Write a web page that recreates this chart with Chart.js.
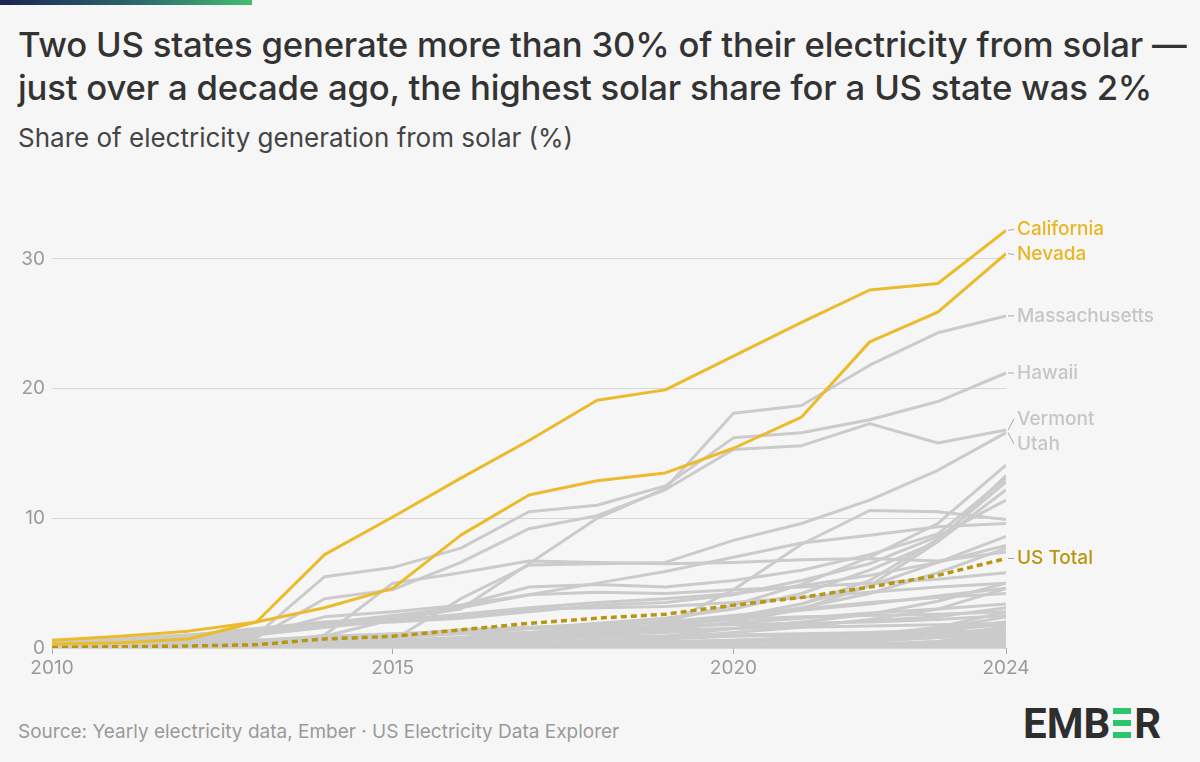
<!DOCTYPE html>
<html>
<head>
<meta charset="utf-8">
<script src="https://cdn.jsdelivr.net/npm/chart.js@4.4.1/dist/chart.umd.min.js"></script>
<style>
  body { margin:0; background:#f6f6f6; width:1200px; height:762px; overflow:hidden; position:relative; font-family:Inter, "Noto Sans", sans-serif; }
  .topbar { position:absolute; left:0; top:0; width:252px; height:5px; background:linear-gradient(90deg,#1b2354,#2c6a6c 55%,#43bf6b); }
  h1 { position:absolute; left:18px; top:23px; margin:0; font-size:34.7px; line-height:43px; font-weight:500; color:#333; letter-spacing:-0.2px; white-space:nowrap; }
  .sub { position:absolute; left:18px; top:122px; font-size:26px; color:#444; }
  .src { position:absolute; left:18px; top:720px; font-size:19px; color:#9a9a9a; }
  .logo { position:absolute; left:1023px; top:700px; font-family:Roboto, sans-serif; font-size:42px; font-weight:700; color:#2e2e2e; line-height:47px; }
  .logo .e { display:inline-block; width:18px; height:30px; margin:0 3px 0 3px; vertical-align:0px;
    background:linear-gradient(#2bc56e 0 6px, transparent 6px 12px, #2bc56e 12px 18px, transparent 18px 24px, #2bc56e 24px 30px); }
  #chart { position:absolute; left:0; top:0; }
</style>
</head>
<body>
<div class="topbar"></div>
<h1>Two US states generate more than 30% of their electricity from solar —<br>just over a decade ago, the highest solar share for a US state was 2%</h1>
<div class="sub">Share of electricity generation from solar (%)</div>
<div class="src">Source: Yearly electricity data, Ember · US Electricity Data Explorer</div>
<div class="logo">EMB<span class="e"></span>R</div>
<canvas id="chart" width="1200" height="762"></canvas>

<script>
// values, % share of generation
var years = [2010,2011,2012,2013,2014,2015,2016,2017,2018,2019,2020,2021,2022,2023,2024]
var xTicks = [2010,2015,2020,2024]
var yTicks = [0,10,20,30]

var california    = [0.6,0.9,1.3,2.0,7.2,10.1,13.1,16.0,19.1,19.9,22.5,25.1,27.6,28.1,32.2]
var nevada        = [0.3,0.4,0.7,2.0,3.1,4.6,8.7,11.8,12.9,13.5,15.4,17.8,23.6,25.9,30.4]
var massachusetts = [0.1,0.2,0.3,0.5,0.9,2.2,3.0,6.5,10.0,12.3,18.1,18.7,21.8,24.3,25.6]
var hawaii        = [0.1,0.2,0.5,1.0,5.5,6.2,7.7,10.5,11.0,12.5,16.2,16.6,17.6,19.0,21.2]
var vermont       = [0.0,0.1,0.3,0.8,3.8,4.5,6.6,9.2,10.2,12.2,15.3,15.6,17.3,15.8,16.8]
var utah          = [0,0,0,0,0.1,0.6,3.8,6.4,6.5,6.6,8.3,9.6,11.4,13.7,16.6]
var usTotal       = [0.05,0.1,0.15,0.25,0.7,0.9,1.4,1.9,2.3,2.6,3.3,3.9,4.7,5.6,6.9]

// all the other states, drawn grey without labels
var otherStates = [
  [0.3,0.5,0.8,1.2,1.9,2.5,3.1,4.1,5.0,5.9,7.0,8.1,8.7,9.35,9.6],
  [0,0,0.1,0.1,0.2,0.4,0.6,0.9,1.3,1.8,4.5,8.0,10.6,10.5,9.9],
  [0,0,0.1,0.2,1.0,5.0,5.8,6.7,6.6,6.5,6.6,6.8,6.9,6.7,7.4],
  [0,0,0.1,0.2,0.3,0.5,0.8,1.2,1.6,2.1,3.3,4.9,7.0,9.6,14.1],
  [0,0,0,0.1,0.2,0.3,0.5,0.7,1.0,1.4,2.0,3.0,4.8,8.2,13.3],
  [0.2,0.4,0.7,1.0,1.6,2.3,3.3,4.7,4.9,4.7,5.2,6.0,7.2,8.8,13.1],
  [0,0,0,0.1,0.2,0.3,0.5,0.8,1.2,1.6,2.3,3.4,5.2,8.4,12.8],
  [0.1,0.2,0.3,0.4,0.6,0.8,1.1,1.5,1.9,2.3,3.0,4.2,6.0,8.2,12.2],
  [0.4,0.7,1.0,1.3,1.8,2.0,2.3,2.8,3.3,3.5,4.1,5.2,6.5,8.6,11.4],
  [0.1,0.1,0.2,0.3,0.4,0.6,0.8,1.1,1.4,1.8,2.4,3.4,4.8,6.6,8.6],
  [0.3,0.5,0.8,1.1,1.6,2.1,2.6,3.1,3.5,3.8,4.2,4.8,5.6,6.6,7.9],
  [0,0,0.1,0.1,0.2,0.4,0.6,0.9,1.3,1.7,2.3,3.1,4.2,5.8,7.7],
  [0.2,0.4,0.7,1.0,2.4,2.8,3.3,4.1,4.3,4.2,4.5,4.7,5.0,5.3,5.8],
  [0.5,0.7,1.0,1.5,2.0,2.3,2.4,3.0,3.1,3.2,3.5,3.9,4.3,4.7,5.0],
  [0,0,0.1,0.1,0.2,0.3,0.5,0.9,1.3,1.7,2.3,2.9,3.4,4.0,4.6],
  [0.1,0.2,0.4,0.6,0.9,1.1,1.3,1.5,1.7,2.0,2.5,3.0,3.5,3.9,4.2],
  [0,0,0.1,0.2,0.3,0.4,0.6,0.9,1.2,1.5,1.9,2.3,2.7,3.0,3.4],
  [0,0.1,0.2,0.3,0.6,1.0,1.4,1.6,1.8,2.0,2.2,2.4,2.5,2.6,2.8],
  [0,0,0,0,0,0,0.1,0.1,0.2,0.3,0.5,0.7,1.0,1.6,2.8],
  [0,0,0,0,0,0.1,0.1,0.2,0.3,0.4,0.6,0.8,1.1,1.4,2.0],
  [0,0,0,0,0,0,0,0,0.1,0.1,0.2,0.3,0.5,0.8,1.3],
  [0,0,0,0,0,0,0,0,0,0,0.1,0.1,0.2,0.3,0.5],
  [0,0,0,0.1,0.1,0.2,0.3,0.4,0.6,0.7,0.9,1.0,1.1,1.2,1.4],
  [0.1,0.1,0.2,0.3,0.4,0.5,0.6,0.8,1.0,1.2,1.5,1.8,2.1,2.4,3.1],
  [0,0.1,0.1,0.2,0.3,0.4,0.5,0.6,0.8,0.9,1.0,1.1,1.2,1.4,1.8],
  [0,0,0,0,0,0,0,0.1,0.1,0.1,0.2,0.2,0.3,0.4,0.7],
  [0,0,0,0,0,0,0,0,0,0,0,0,0.1,0.1,0.2],
  [0,0,0,0,0,0,0,0,0,0,0,0,0,0,0.1],
  [0,0,0,0,0,0,0,0,0.1,0.2,0.4,0.6,0.9,1.5,2.4],
  [0,0,0,0,0.1,0.1,0.2,0.2,0.3,0.3,0.4,0.5,0.6,0.8,1.0],
  [0.1,0.2,0.3,0.4,0.5,0.6,0.7,0.8,0.9,0.9,1.0,1.0,1.1,1.1,1.2],
  [0,0,0,0,0,0,0.1,0.3,0.5,0.8,1.2,1.6,2.2,3.0,4.6],
  [0,0,0,0,0,0,0,0,0,0.1,0.1,0.3,0.6,1.2,2.0],
  [0,0,0,0,0,0,0,0,0,0,0,0.1,0.2,0.5,1.1],
  [0,0,0,0,0,0,0,0,0,0,0,0,0,0.1,0.3],
  [0.2,0.3,0.5,0.6,0.8,1.0,1.1,1.2,1.3,1.4,1.5,1.6,1.7,1.8,1.9],
  [0,0,0,0.1,0.3,0.8,1.2,1.5,1.6,1.7,1.8,1.9,2.0,2.2,2.5],
  [0,0,0,0,0,0,0,0.1,0.4,0.9,1.5,2.0,2.6,3.6,5.0],
  [0,0,0,0,0,0,0,0,0,0,0.1,0.2,0.3,0.4,0.6],
  [0,0,0,0,0.1,0.2,0.2,0.3,0.4,0.5,0.6,0.7,0.8,1.0,1.6],
  [0,0,0,0,0,0,0,0,0.1,0.1,0.1,0.2,0.3,0.5,0.9]
]

var GREY = '#cbcbcb'
var YELLOW = '#ebbb2b'
var DARKGOLD = '#b8960f'
var LABEL_GREY = '#c6c6c6'

function pts(vals){
  return vals.map(function(v,i){ return {x: years[i], y: v} })
}

// Chart.js paints the first dataset on top, so highlighted lines go first
var datasets = []
datasets.push({data: pts(california), borderColor: YELLOW, borderWidth: 3, endLabel: 'California', labelColor: '#e8b623'})
datasets.push({data: pts(nevada), borderColor: YELLOW, borderWidth: 3, endLabel: 'Nevada', labelColor: '#e8b623'})
datasets.push({data: pts(usTotal), borderColor: DARKGOLD, borderWidth: 3.5, borderDash: [6,4], borderCapStyle: 'butt', endLabel: 'US Total', labelColor: DARKGOLD})
datasets.push({data: pts(massachusetts), borderColor: GREY, borderWidth: 3, endLabel: 'Massachusetts', labelColor: LABEL_GREY})
datasets.push({data: pts(hawaii), borderColor: GREY, borderWidth: 3, endLabel: 'Hawaii', labelColor: LABEL_GREY})
datasets.push({data: pts(vermont), borderColor: GREY, borderWidth: 3, endLabel: 'Vermont', labelColor: LABEL_GREY})
datasets.push({data: pts(utah), borderColor: GREY, borderWidth: 3, endLabel: 'Utah', labelColor: LABEL_GREY})
otherStates.forEach(function(s){
  datasets.push({data: pts(s), borderColor: GREY, borderWidth: 3})
})

// labels at the line ends, pushed apart when they collide
var endLabels = {
  id: 'endLabels',
  afterDatasetsDraw: function(chart){
    var ctx = chart.ctx
    var area = chart.chartArea
    var ys = chart.scales.y
    var items = []
    chart.data.datasets.forEach(function(ds){
      if (!ds.endLabel) return
      var last = ds.data[ds.data.length-1]
      var py = ys.getPixelForValue(last.y)
      items.push({text: ds.endLabel, color: ds.labelColor, py: py, ly: py})
    })
    items.sort(function(a,b){ return a.py - b.py })
    var gap = 25
    for (var k = 0; k < 5; k++) {
      for (var i = 1; i < items.length; i++) {
        var d = items[i].ly - items[i-1].ly
        if (d < gap) {
          var shift = (gap - d)/2
          items[i-1].ly -= shift
          items[i].ly += shift
        }
      }
    }
    ctx.save()
    ctx.font = '500 19px Inter, "Noto Sans", sans-serif'
    ctx.textBaseline = 'middle'
    items.forEach(function(it){
      var x0 = area.right + 2
      ctx.strokeStyle = '#a8a8a8'
      ctx.lineWidth = 1
      ctx.beginPath()
      ctx.moveTo(x0, it.py)
      ctx.lineTo(x0 + 6, it.ly)
      ctx.stroke()
      ctx.fillStyle = it.color
      ctx.fillText(it.text, area.right + 11, it.ly)
    })
    ctx.restore()
  }
}

var chart = new Chart(document.getElementById('chart').getContext('2d'), {
  type: 'line',
  data: { datasets: datasets },
  options: {
    responsive: false,
    animation: false,
    layout: { padding: { left: 8, right: 194, top: 194, bottom: 74 } },
    elements: {
      point: { radius: 0 },
      line: { tension: 0, borderJoinStyle: 'round', fill: false }
    },
    plugins: { legend: { display: false }, tooltip: { enabled: false } },
    scales: {
      x: {
        type: 'linear', min: 2010, max: 2024,
        afterBuildTicks: function(s){ s.ticks = xTicks.map(function(v){ return {value: v} }) },
        afterFit: function(s){ s.height = 40 },
        ticks: { color: '#9a9a9a', font: { size: 19, family: 'Inter' }, padding: 3, maxRotation: 0, autoSkip: false,
                 callback: function(v){ return String(v) } },
        grid: { drawOnChartArea: false, drawTicks: true, tickLength: 6, color: '#aaaaaa' },
        border: { display: false }
      },
      y: {
        min: 0, max: 35,
        afterBuildTicks: function(s){ s.ticks = yTicks.map(function(v){ return {value: v} }) },
        afterFit: function(s){ s.width = 44 },
        ticks: { color: '#9a9a9a', font: { size: 19, family: 'Inter' }, padding: 7 },
        grid: { color: '#d6d6d6', lineWidth: 1, drawTicks: false },
        border: { display: false }
      }
    }
  },
  plugins: [endLabels]
})
</script>
</body>
</html>
